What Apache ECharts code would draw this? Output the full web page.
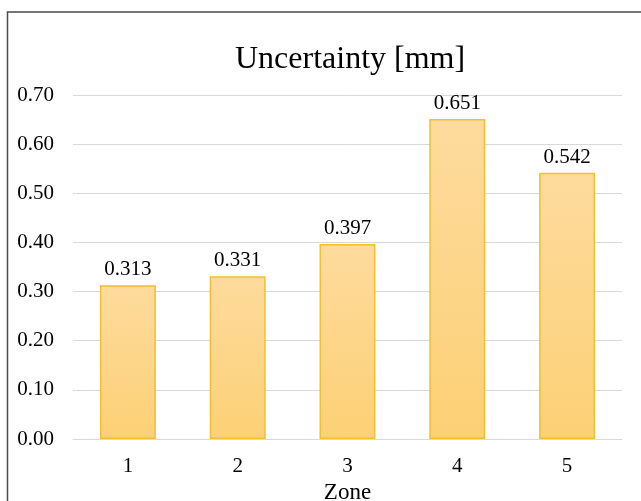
<!DOCTYPE html>
<html>
<head>
<meta charset="utf-8">
<script src="https://cdn.jsdelivr.net/npm/echarts@6/dist/echarts.min.js"></script>
<style>
  html, body { margin: 0; padding: 0; background: #fff; }
  #chart { width: 641px; height: 501px; }
</style>
</head>
<body>
<div id="chart"></div>
<script>
// Measurement uncertainty per zone
const zones = ['1', '2', '3', '4', '5'];
const uncertainty = [0.313, 0.331, 0.397, 0.651, 0.542];
const yTicks = { min: 0, max: 0.7, interval: 0.1 };

const serif = '"Liberation Serif", "Times New Roman", serif';

const chart = echarts.init(document.getElementById('chart'), null, { renderer: 'canvas' });

chart.setOption({
  backgroundColor: '#fff',
  animation: false,
  title: {
    text: 'Uncertainty [mm]',
    left: 230,
    top: 39,
    textStyle: { fontFamily: serif, fontSize: 32, fontWeight: 'normal', color: '#000' }
  },
  graphic: [{
    type: 'rect',
    shape: { x: 7.5, y: 12, width: 700, height: 600 },
    style: { fill: 'none', stroke: '#4a4a4a', lineWidth: 1.5 },
    silent: true
  }],
  grid: { left: 73, right: 19, top: 95, bottom: 62, outerBoundsMode: 'none', containLabel: false },
  xAxis: {
    type: 'category',
    data: zones,
    name: 'Zone',
    nameLocation: 'middle',
    nameGap: 37,
    nameTextStyle: { fontFamily: serif, fontSize: 23, color: '#000' },
    axisLine: { show: true, lineStyle: { color: '#d9d9d9', width: 1 } },
    axisTick: { show: false },
    axisLabel: { fontFamily: serif, fontSize: 21, color: '#000', margin: 17 }
  },
  yAxis: {
    type: 'value',
    min: yTicks.min,
    max: yTicks.max,
    interval: yTicks.interval,
    axisLine: { show: false },
    axisTick: { show: false },
    splitLine: { lineStyle: { color: '#d9d9d9', width: 1 } },
    axisLabel: {
      fontFamily: serif, fontSize: 21, color: '#000', margin: 19,
      formatter: v => v.toFixed(2)
    }
  },
  series: [{
    type: 'bar',
    data: uncertainty,
    barWidth: '51%',
    itemStyle: {
      color: new echarts.graphic.LinearGradient(0, 0, 0, 1, [
        { offset: 0, color: '#fedb9d' },
        { offset: 1, color: '#fcd075' }
      ]),
      borderColor: '#f2bf2e',
      borderWidth: 1.5
    },
    label: {
      show: true,
      position: 'top',
      distance: 5,
      fontFamily: serif,
      fontSize: 21,
      color: '#000',
      formatter: p => p.value.toFixed(3)
    }
  }]
});
</script>
</body>
</html>
